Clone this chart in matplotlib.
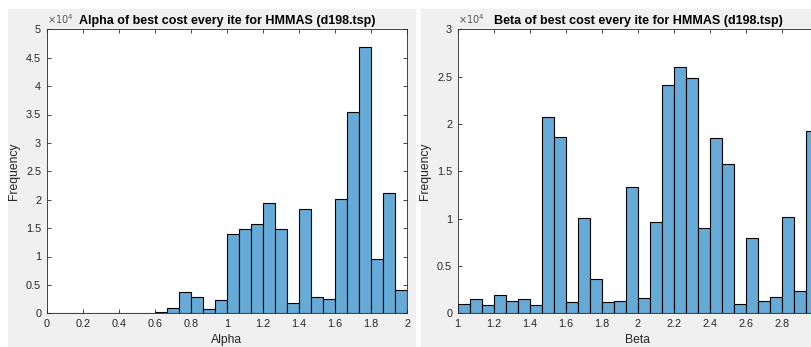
import numpy as np
import matplotlib
matplotlib.use("Agg")
import matplotlib.pyplot as plt
from matplotlib.patches import Rectangle

plt.rcParams['font.family'] = ['Liberation Sans', 'DejaVu Sans']

# histogram bins: 30 equal bins over each range
alpha_range = (0.0, 2.0)
alpha_counts = [0, 0, 0, 0, 0, 0, 0, 0, 0,
                300, 880, 3800, 2800, 700, 2290,
                14000, 14900, 15700, 19500, 14800, 1760,
                18400, 2800, 2460, 20100, 35400, 46900,
                9500, 21200, 4050]

beta_range = (1.0, 3.0)
beta_counts = [1000, 1550, 850, 1950, 1300, 1550, 850,
               20700, 18600, 1150, 10050, 3600, 1150, 1300,
               13300, 1600, 9650, 24100, 26000, 24850,
               9050, 18500, 15800, 1000, 7950, 1250,
               1750, 10150, 2350, 19300]

alpha_ticks = [0, 0.2, 0.4, 0.6, 0.8, 1, 1.2, 1.4, 1.6, 1.8, 2]
beta_ticks = [1, 1.2, 1.4, 1.6, 1.8, 2, 2.2, 2.4, 2.6, 2.8, 3]

W, H = 812, 347
fig = plt.figure(figsize=(W / 100, H / 100), dpi=100)
fig.patch.set_facecolor('white')

# grey MATLAB figure windows
for x0, x1 in [(8, 415), (421, 812)]:
    fig.patches.append(Rectangle((x0 / W, 0), (x1 - x0) / W, (H - 9) / H,
                                 transform=fig.transFigure, color='#f0f0f0',
                                 zorder=-5))

face = (0.4, 0.668, 0.845)
dark = '#262626'


def hist_panel(left_px, counts, rng, ticks, ymax, title, xlabel, hide_last=False):
    ax = fig.add_axes([left_px / W, (H - 313.3) / H, 360.5 / W, 284 / H])
    ax.set_zorder(2)
    edges = np.linspace(rng[0], rng[1], len(counts) + 1)
    ax.bar(edges[:-1], counts, width=np.diff(edges), align='edge',
           color=face, edgecolor='black', linewidth=0.8)
    ax.set_xlim(rng)
    ax.set_ylim(0, ymax)
    ax.set_xticks(ticks)
    labels = ['%g' % t for t in ticks]
    if hide_last:
        labels[-1] = ''  # falls outside the visible window
    ax.set_xticklabels(labels)
    yt = np.arange(0, ymax + 1, 5000)
    ax.set_yticks(yt)
    ax.set_yticklabels(['%g' % (v / 1e4) for v in yt])
    ax.tick_params(direction='in', length=3, width=0.6, top=True, right=True,
                   labelsize=7.8, colors=dark, pad=4)
    for s in ax.spines.values():
        s.set_color(dark)
        s.set_linewidth(0.6)
    ax.set_title(title, fontsize=9, fontweight='bold', pad=4)
    ax.set_xlabel(xlabel, fontsize=8.7, color=dark, labelpad=3.5)
    ax.set_ylabel('Frequency', fontsize=8.7, color=dark, labelpad=4)
    ax.text(0.0, 1.01, r'$\times10^4$', transform=ax.transAxes,
            fontsize=7, color='#555555', va='bottom', ha='left')
    return ax


hist_panel(46.7, alpha_counts, alpha_range, alpha_ticks, 50000,
           'Alpha of best cost every ite for HMMAS (d198.tsp)', 'Alpha')
hist_panel(457.7, beta_counts, beta_range, beta_ticks, 30000,
           'Beta of best cost every ite for HMMAS (d198.tsp)', 'Beta',
           hide_last=True)

fig.savefig('out.png', dpi=100, facecolor=fig.get_facecolor())
